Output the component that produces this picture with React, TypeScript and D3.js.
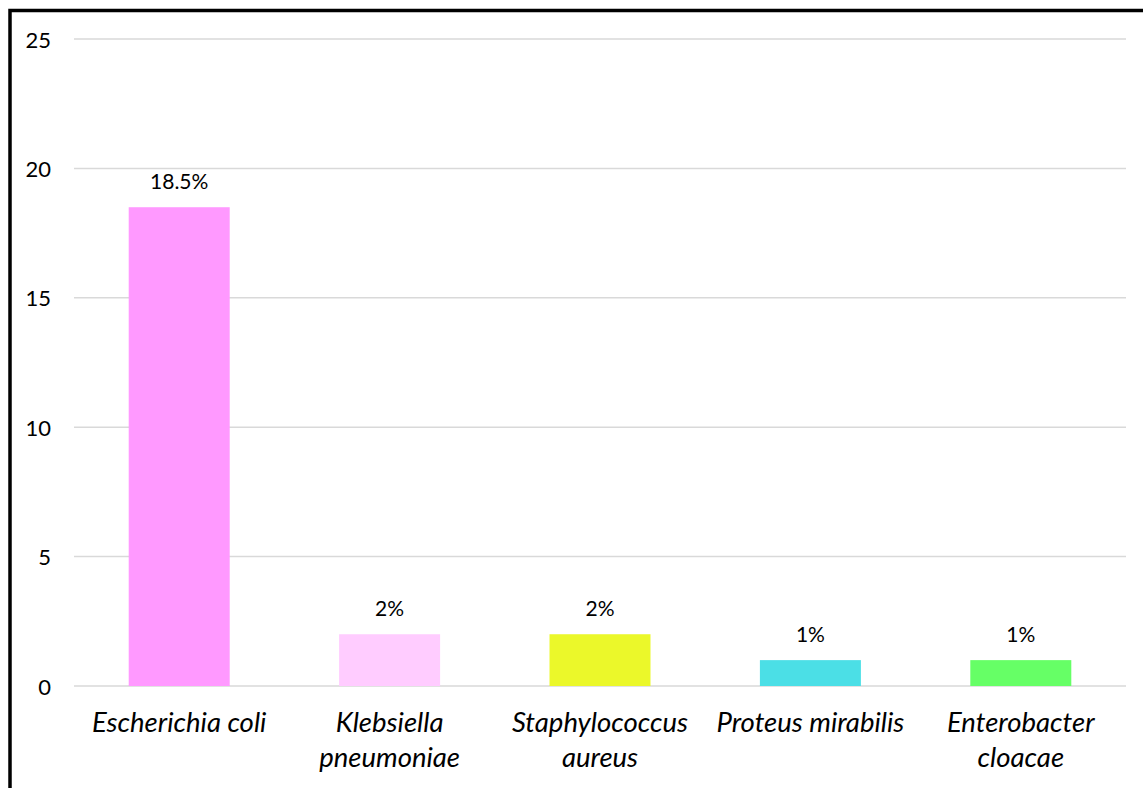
import React from "react";
import * as d3 from "d3";

const categories: string[][] = [
  ["Escherichia coli"],
  ["Klebsiella", "pneumoniae"],
  ["Staphylococcus", "aureus"],
  ["Proteus mirabilis"],
  ["Enterobacter", "cloacae"],
];
const values: number[] = [18.5, 2, 2, 1, 1];
const valueLabels: string[] = ["18.5%", "2%", "2%", "1%", "1%"];
const barColors: string[] = ["#FF99FF", "#FFCCFF", "#EBF82A", "#4BDFE6", "#66FF66"];
const yTicks: number[] = [0, 5, 10, 15, 20, 25];

const W = 1143;
const H = 788;
const plotLeft = 74;
const plotRight = 1126;
const plotTop = 39;
const plotBottom = 686;
const font = "Lato, 'Open Sans', sans-serif";

export default function App() {
  const keys = categories.map((c) => c.join(" "));
  const x = d3
    .scaleBand<string>()
    .domain(keys)
    .range([plotLeft, plotRight])
    .paddingInner(0.52)
    .paddingOuter(0.26);
  const y = d3.scaleLinear().domain([0, 25]).range([plotBottom, plotTop]);

  return (
    <svg
      width={W}
      height={H}
      style={{ position: "absolute", left: 0, top: 0, background: "#fff" }}
    >
      <rect x={0} y={0} width={W} height={H} fill="#fff" />
      {yTicks.map((t) => (
        <g key={t}>
          <line
            x1={plotLeft}
            x2={plotRight}
            y1={y(t)}
            y2={y(t)}
            stroke="#D9D9D9"
            strokeWidth={1.5}
          />
          <text
            x={51}
            y={y(t)}
            textAnchor="end"
            dominantBaseline="central"
            fontFamily={font}
            fontSize={22}
            fill="#000"
          >
            {t}
          </text>
        </g>
      ))}
      {values.map((v, i) => {
        const k = keys[i];
        const bx = x(k) as number;
        const cx = bx + x.bandwidth() / 2;
        return (
          <g key={k}>
            <rect
              x={bx}
              y={y(v)}
              width={x.bandwidth()}
              height={y(0) - y(v)}
              fill={barColors[i]}
            />
            <text
              x={cx}
              y={y(v) - 18}
              textAnchor="middle"
              fontFamily={font}
              fontSize={21}
              fill="#000"
            >
              {valueLabels[i]}
            </text>
            <text
              textAnchor="middle"
              fontFamily={font}
              fontSize={27.5}
              fontStyle="italic"
              fill="#000"
            >
              {categories[i].map((line, j) => (
                <tspan key={j} x={cx} y={732 + j * 35}>
                  {line}
                </tspan>
              ))}
            </text>
          </g>
        );
      })}
      <rect
        x={10}
        y={10.5}
        width={1300}
        height={1000}
        fill="none"
        stroke="#000"
        strokeWidth={3.5}
      />
    </svg>
  );
}
